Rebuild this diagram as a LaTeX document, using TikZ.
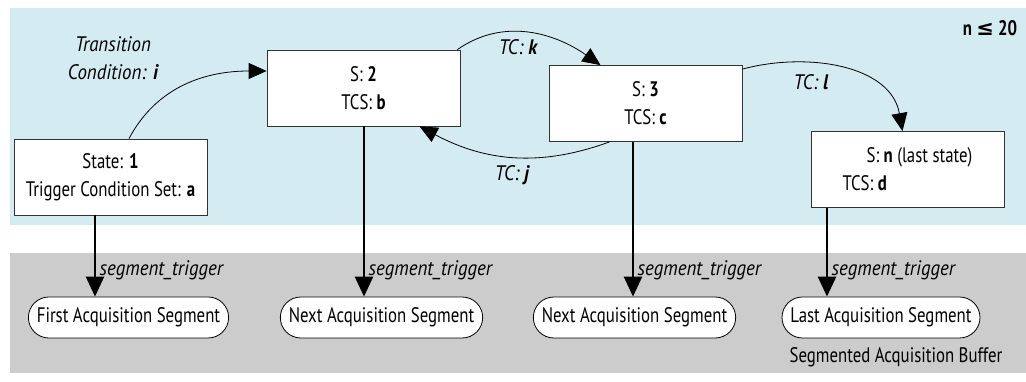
\documentclass[tikz,border=0pt]{standalone}
\usepackage{fontspec}
\setmainfont{PT Sans}[FakeStretch=0.8]
\newfontfamily\condfont{PT Sans}[FakeStretch=0.9]
\newfontfamily\symfont{DejaVu Sans}
\usepackage{xcolor}
\usetikzlibrary{arrows.meta,shapes.misc}
\definecolor{stateblue}{HTML}{D4EBF2}
\definecolor{buffergray}{HTML}{CCCCCC}

\begin{document}
\begin{tikzpicture}[x=1pt,y=1pt,
    font=\fontsize{21}{28}\selectfont,
    state/.style={draw=black!80, fill=white, line width=0.8pt,
      minimum width=193pt, minimum height=76pt, align=center},
    segment/.style={draw=black, fill=white, rounded rectangle, line width=0.8pt,
      minimum height=41pt, inner xsep=6pt},
    trans/.style={-{Triangle[length=18pt,width=16pt]}, line width=0.8pt},
    trig/.style={-{Triangle[length=20pt,width=18pt]}, line width=2.6pt},
    cond/.style={font=\fontsize{21}{28}\condfont\itshape}]
      % \draw[help lines, gray!50, very thin] (0,0) grid[step=50] (1026,382);
      \useasboundingbox (0,0) rectangle (1026,382);

      \fill[stateblue] (10,157) rectangle (1026,374);
      \fill[buffergray] (10,9) rectangle (1026,129);

      \node[state] (s1) at (110.5,205) {State: \textbf{1}\\Trigger Condition Set: \textbf{a}};
      \node[state] (s2) at (363.5,294) {S: \textbf{2}\\TCS: \textbf{b}};
      \node[state] (s3) at (645.5,278.5) {S: \textbf{3}\\TCS: \textbf{c}};
      \node[state, align=left] (s4) at (907.5,212.5) {\hspace*{24pt}S: \textbf{n} (last state)\\TCS: \textbf{d}};

      \node[segment] (seg1) at (128.5,64.5) {First Acquisition Segment};
      \node[segment] (seg2) at (381.5,64.5) {Next Acquisition Segment};
      \node[segment] (seg3) at (634.5,64.5) {Next Acquisition Segment};
      \node[segment] (seg4) at (881,64.5) {Last Acquisition Segment};

      \node[cond, align=center] (ti) at (113,324) {Transition\\Condition: \textbf{i}};
      \node[cond] (tk) at (518,335) {TC: \textbf{k}};
      \node[cond] (tj) at (512,207) {TC: \textbf{j}};
      \node[cond] (tl) at (811,300) {TC: \textbf{l}};
      \node (nmax) at (990,354) {\textbf{n {\symfont\bfseries ≤} 20}};
      \node (buf) at (896,25) {Segmented Acquisition Buffer};

      \draw[trans] ([xshift=18.5pt]s1.north) to[out=62, in=180] ([yshift=17pt]s2.west);
      \draw[trans] ([xshift=-3pt]s2.north east) to[out=35, in=145] ([xshift=-45pt]s3.north);
      \draw[trans] ([xshift=-36pt]s3.south) to[out=200, in=-28] ([xshift=56pt]s2.south);
      \draw[trans] ([yshift=-4pt]s3.north east) to[out=15, in=100] ([xshift=-5pt]s4.north);

      \coordinate (t1) at (95,112);
      \coordinate (t2) at (364,112);
      \coordinate (t3) at (633,112);
      \coordinate (t4) at (827,112);
      \draw[trig] (t1 |- s1.south) -- (t1 |- seg1.north);
      \draw[trig] (t2 |- s2.south) -- (t2 |- seg2.north);
      \draw[trig] (t3 |- s3.south) -- (t3 |- seg3.north);
      \draw[trig] (t4 |- s4.south) -- (t4 |- seg4.north);
      \node[cond, anchor=west] (g1) at ([xshift=1pt]t1) {segment\_trigger};
      \node[cond, anchor=west] (g2) at ([xshift=1pt]t2) {segment\_trigger};
      \node[cond, anchor=west] (g3) at ([xshift=1pt]t3) {segment\_trigger};
      \node[cond, anchor=west] (g4) at ([xshift=1pt]t4) {segment\_trigger};
    \end{tikzpicture}
\end{document}
